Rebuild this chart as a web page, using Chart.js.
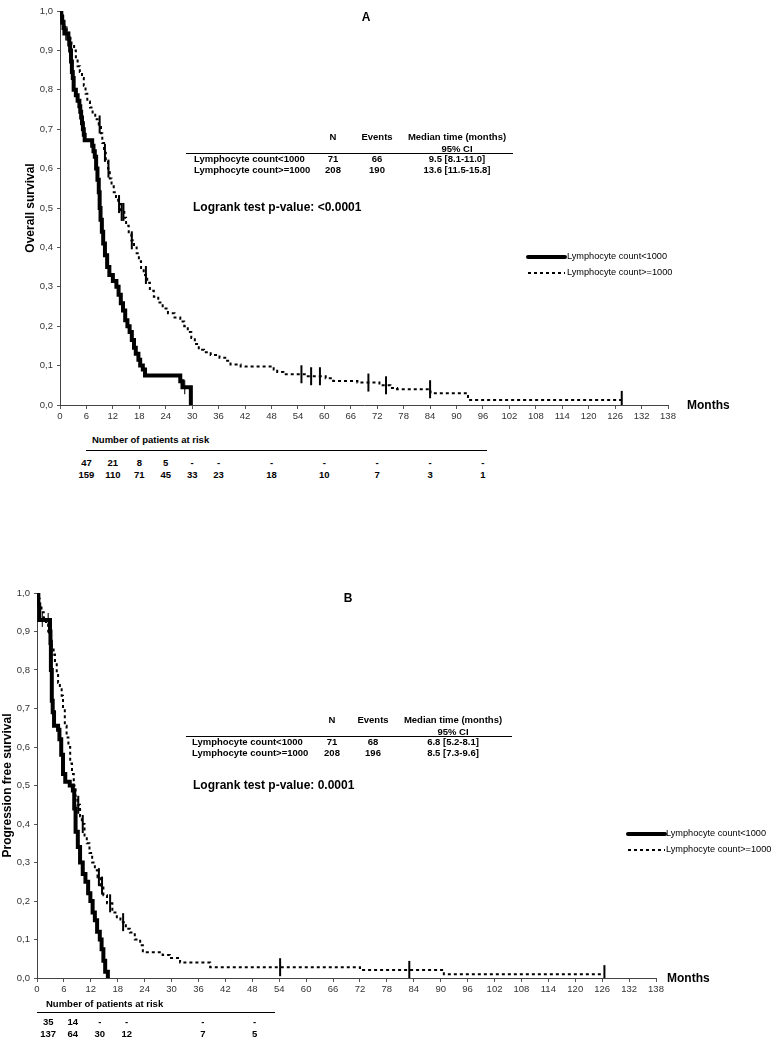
<!DOCTYPE html>
<html>
<head>
<meta charset="utf-8">
<script src="https://cdn.jsdelivr.net/npm/chart.js@4.4.1/dist/chart.umd.min.js"></script>
<style>
body { margin:0; background:#fff; }
#wrap { position:relative; width:772px; height:1050px; color:#000; overflow:hidden; }
canvas { position:absolute; left:0; }
.t { position:absolute; white-space:nowrap; }
.hl { position:absolute; height:0; border-top:1px solid #000; }
</style>
</head>
<body>
<div id="wrap">
<canvas id="chartA" width="772" height="430" style="top:0px"></canvas>
<canvas id="chartB" width="772" height="421" style="top:582px"></canvas>
</div>
<script>
// --- data ---
var groupNames = ['Lymphocyte count<1000', 'Lymphocyte count>=1000'];

// A: overall survival
var osLowTime = [0,0.3,0.5,0.8,1.0, 1.9,2.1,2.3,2.5,2.7, 2.9,3.1,3.6,4.0,4.4, 4.6,4.8,5.0,5.2,5.4, 5.6,7.3,7.6,7.9,8.2, 8.5,8.8,9.0,9.2,9.5, 9.8,10.2,10.7,11.2, 12.0,12.8,13.3,13.8,14.3, 14.8,15.3,15.8,16.3,16.8, 17.2,17.8,18.2,18.8,19.3, 27.3,27.8,29.7];
var osLowSurv = [1,0.985,0.97,0.957,0.943, 0.93,0.915,0.9,0.872,0.845, 0.83,0.8,0.786,0.772,0.758, 0.744,0.73,0.715,0.7,0.686, 0.672,0.658,0.644,0.63,0.6, 0.572,0.54,0.5,0.47,0.44, 0.41,0.38,0.35,0.33, 0.315,0.3,0.28,0.258,0.24, 0.215,0.2,0.185,0.165,0.145, 0.13,0.115,0.1,0.09,0.075, 0.06,0.045,0];
var osLowCensTime = [1.3, 1.6, 28.3];
var osLowCensSurv = [0.943, 0.943, 0.045];

var osHighTime = [0,0.3,0.6,1.0,1.5, 2.0,2.6,3.2,3.6,4.0, 4.5,5.0,5.4,5.8,6.2, 6.8,7.4,8.0,8.8,9.3, 9.6,10.0,10.4,10.9,11.3, 11.7,12.2,12.7,13.2,13.8, 14.6,15.0,15.6,16.2,16.8, 17.4,17.9,18.4,19.0,19.8, 20.4,21.3,22.3,23.3,24.5, 26.0,27.3,28.2,29.0,29.8, 30.6,31.5,32.7,34.2,36.2, 37.5,38.7,41.0,48.5,49.3, 50.7,56.0,60.3,62.0,67.5, 72.5,75.0,76.5,84.1,92.6, 127.5];
var osHighSurv = [1,0.99,0.975,0.96,0.945, 0.93,0.915,0.9,0.88,0.86, 0.845,0.83,0.81,0.79,0.77, 0.755,0.74,0.725,0.712,0.69, 0.665,0.64,0.62,0.6,0.575, 0.555,0.54,0.525,0.51,0.49, 0.475,0.455,0.435,0.418,0.4, 0.385,0.365,0.345,0.33,0.31, 0.29,0.275,0.26,0.245,0.233, 0.222,0.212,0.2,0.185,0.17, 0.155,0.14,0.134,0.127,0.12, 0.112,0.103,0.098,0.09,0.084, 0.078,0.073,0.068,0.061,0.057, 0.05,0.043,0.04,0.03,0.013, 0.013];
var osHighCensTime = [9.0,10.2,11.0,13.4,14.0,14.4,16.3,19.5,54.8,57.0,59.0,70.0,74.0,84.0,127.5];
var osHighCensSurv = [0.712,0.64,0.6,0.51,0.49,0.49,0.418,0.33,0.078,0.073,0.073,0.057,0.05,0.04,0.013];

// B: progression free survival
var pfsLowTime = [0,0.3,0.5,2.9,3.0, 3.1,3.3,3.5,3.8,4.7, 5.0,5.4,5.8,6.3,7.3, 8.0,8.3,8.6,9.1,9.6, 10.2,10.8,11.4,11.9,12.4, 12.9,13.4,14.0,14.4,14.8, 15.2,15.8];
var pfsLowSurv = [1,0.97,0.93,0.9,0.87, 0.8,0.72,0.69,0.655,0.645, 0.62,0.58,0.53,0.51,0.5, 0.487,0.44,0.38,0.34,0.3, 0.27,0.25,0.22,0.2,0.17, 0.15,0.12,0.1,0.075,0.045, 0.016,0];
var pfsLowCensTime = [1.2, 2.5];
var pfsLowCensSurv = [0.93, 0.93];

var pfsHighTime = [0,0.3,0.6,1.0,1.5, 2.0,2.5,2.9,3.3,3.7, 4.0,4.4,4.7,5.1,5.5, 5.8,6.2,6.6,7.0,7.4, 7.8,8.2,8.6,9.0,9.6, 10.0,10.6,11.1,11.7,12.3, 12.9,13.5,14.2,14.8,15.6, 16.8,17.8,18.6,19.8,20.7, 21.8,23.0,23.6,28.0,29.6, 31.9,38.6,72.0,90.7,126.5];
var pfsHighSurv = [1,0.985,0.97,0.95,0.935, 0.92,0.9,0.876,0.86,0.84, 0.82,0.79,0.767,0.75,0.733, 0.7,0.655,0.625,0.6,0.557, 0.53,0.5,0.47,0.45,0.42, 0.4,0.37,0.35,0.325,0.3, 0.28,0.262,0.24,0.215,0.194, 0.17,0.158,0.145,0.128,0.118, 0.1,0.085,0.067,0.06,0.052, 0.04,0.028,0.021,0.01,0.01];
var pfsHighCensTime = [9.2,10.2,13.8,14.5,16.3,19.2,54.2,83.0,126.5];
var pfsHighCensSurv = [0.45,0.4,0.262,0.24,0.194,0.145,0.028,0.021,0.01];

// summary tables
var nA = ['71', '208'];
var eventsA = ['66', '190'];
var medianA = ['9.5 [8.1-11.0]', '13.6 [11.5-15.8]'];
var pvalA = '<0.0001';
var nB = ['71', '208'];
var eventsB = ['68', '196'];
var medianB = ['6.8 [5.2-8.1]', '8.5 [7.3-9.6]'];
var pvalB = '0.0001';

// number at risk
var riskMonthsA = [6,12,18,24,30,36,48,60,72,84,96];
var riskLowA = ['47','21','8','5','-','-','-','-','-','-','-'];
var riskHighA = ['159','110','71','45','33','23','18','10','7','3','1'];
var riskMonthsB = [2.5,8,14,20,37,48.5];
var riskLowB = ['35','14','-','-','-','-'];
var riskHighB = ['137','64','30','12','7','5'];

var fam = '"Liberation Sans", Arial, sans-serif';
var wrap = document.getElementById('wrap');

function pts(t, s) {
	var out = [];
	for (var i = 0; i < t.length; i++) out.push({x: t[i], y: s[i]});
	return out;
}

function put(text, x, y, font, align) {
	var el = document.createElement('div');
	el.className = 't';
	el.textContent = text;
	el.style.font = font;
	el.style.lineHeight = '1';
	el.style.left = x + 'px';
	el.style.top = y + 'px';
	if (align == 'c') el.style.transform = 'translate(-50%,-50%)';
	else el.style.transform = 'translate(0,-50%)';
	wrap.appendChild(el);
}

function hline(x1, x2, y) {
	var el = document.createElement('div');
	el.className = 'hl';
	el.style.left = x1 + 'px';
	el.style.top = y + 'px';
	el.style.width = (x2 - x1) + 'px';
	wrap.appendChild(el);
}

// legend samples drawn from the dataset styles
var kmLegend = {
	id: 'kmLegend',
	afterDraw: function(chart) {
		var o = chart.options.plugins.kmLegend;
		var ctx = chart.ctx;
		for (var i = 0; i < 2; i++) {
			var ds = chart.data.datasets[i];
			ctx.save();
			ctx.strokeStyle = ds.borderColor;
			ctx.lineWidth = ds.borderWidth;
			ctx.lineCap = i == 0 ? 'round' : 'butt';
			ctx.setLineDash(ds.borderDash || []);
			ctx.beginPath();
			ctx.moveTo(o.x1, o.y[i]);
			ctx.lineTo(o.x2, o.y[i]);
			ctx.stroke();
			ctx.restore();
		}
	}
};

function buildChart(id, d) {
	var ctx = document.getElementById(id).getContext('2d');
	return new Chart(ctx, {
		type: 'line',
		data: {
			datasets: [
				{ label: groupNames[0], data: pts(d.lowT, d.lowS), stepped: true, borderColor: '#000', borderWidth: 4, pointRadius: 0, fill: false },
				{ label: groupNames[1], data: pts(d.highT, d.highS), stepped: true, borderColor: '#000', borderWidth: 2, borderDash: [3, 3], pointRadius: 0, fill: false },
				{ label: 'censored <1000', data: pts(d.lowCT, d.lowCS), showLine: false, pointStyle: 'line', pointRotation: 90, pointRadius: 7, pointBorderColor: '#333', pointBorderWidth: 1.3 },
				{ label: 'censored >=1000', data: pts(d.highCT, d.highCS), showLine: false, pointStyle: 'line', pointRotation: 90, pointRadius: 9, pointBorderColor: '#000', pointBorderWidth: 2 }
			]
		},
		options: {
			responsive: false,
			animation: false,
			devicePixelRatio: 1,
			layout: { padding: { left: 0, top: 10, right: d.padRight, bottom: 0 } },
			plugins: {
				legend: { display: false },
				tooltip: { enabled: false },
				kmLegend: d.legend
			},
			scales: {
				x: {
					type: 'linear', min: 0, max: 138,
					afterFit: function(s) { s.height = 25; },
					ticks: { stepSize: 6, autoSkip: false, maxRotation: 0, color: '#333', padding: 2, font: { family: fam, size: 9.5 } },
					grid: { drawOnChartArea: false, drawTicks: true, tickLength: 4, color: '#555' },
					border: { color: '#444', width: 1 }
				},
				y: {
					min: 0, max: 1,
					afterFit: function(s) { s.width = d.yWidth; },
					ticks: { stepSize: 0.1, color: '#333', padding: 4, font: { family: fam, size: 9.5 },
						callback: function(v) { return v.toFixed(1).replace('.', ','); } },
					grid: { drawOnChartArea: false, drawTicks: true, tickLength: 3, color: '#555' },
					border: { color: '#444', width: 1 },
					title: { display: true, text: d.yTitle, color: '#000', padding: { top: d.titlePad, bottom: 0 }, font: { family: fam, size: 12, weight: 'bold' } }
				}
			}
		},
		plugins: [kmLegend]
	});
}

var chartA = buildChart('chartA', {
	lowT: osLowTime, lowS: osLowSurv, lowCT: osLowCensTime, lowCS: osLowCensSurv,
	highT: osHighTime, highS: osHighSurv, highCT: osHighCensTime, highCS: osHighCensSurv,
	padRight: 104, yWidth: 60, titlePad: 23, yTitle: 'Overall survival',
	legend: { x1: 528, x2: 565, y: [257, 273] }
});
var chartB = buildChart('chartB', {
	lowT: pfsLowTime, lowS: pfsLowSurv, lowCT: pfsLowCensTime, lowCS: pfsLowCensSurv,
	highT: pfsHighTime, highS: pfsHighSurv, highCT: pfsHighCensTime, highCS: pfsHighCensSurv,
	padRight: 116, yWidth: 37, titlePad: 0, yTitle: 'Progression free survival',
	legend: { x1: 628, x2: 665, y: [834 - 582, 850 - 582] }
});

var fTab = 'bold 9.5px ' + fam;
var fBig = 'bold 12px ' + fam;
var fLeg = '9.2px ' + fam;

function panelText(p) {
	put(p.letter, p.letterX, p.letterY, fBig, 'c');
	put('N', p.colN, p.headY, fTab, 'c');
	put('Events', p.colE, p.headY, fTab, 'c');
	put('Median time (months)', p.colM, p.headY, fTab, 'c');
	put('95% CI', p.colM, p.headY + 11.5, fTab, 'c');
	hline(p.lineX1, p.lineX2, p.lineY);
	for (var i = 0; i < 2; i++) {
		var y = p.rowY[i];
		put(groupNames[i], p.nameX, y, fTab, 'l');
		put(p.n[i], p.colN, y, fTab, 'c');
		put(p.ev[i], p.colE, y, fTab, 'c');
		put(p.med[i], p.colM, y, fTab, 'c');
		put(groupNames[i], p.legX, p.legY[i], fLeg, 'l');
	}
	put('Logrank test p-value: ' + p.pval, p.pX, p.pY, fBig, 'l');
	put('Months', p.monthsX, p.monthsY, fBig, 'l');
	// number at risk, columns placed on the chart's month axis
	put('Number of patients at risk', p.riskTitleX, p.riskTitleY, fTab, 'l');
	hline(p.riskLineX1, p.riskLineX2, p.riskLineY);
	for (var j = 0; j < p.riskMonths.length; j++) {
		var x = p.chart.scales.x.getPixelForValue(p.riskMonths[j]);
		put(p.riskLow[j], x, p.riskRowY[0], fTab, 'c');
		put(p.riskHigh[j], x, p.riskRowY[1], fTab, 'c');
	}
}

panelText({
	chart: chartA, letter: 'A', letterX: 366, letterY: 17,
	headY: 137, colN: 333, colE: 377, colM: 457, lineX1: 186, lineX2: 513, lineY: 153,
	rowY: [158.5, 169.5], nameX: 194, n: nA, ev: eventsA, med: medianA,
	pval: pvalA, pX: 193, pY: 207, monthsX: 687, monthsY: 405,
	legX: 567, legY: [257, 273],
	riskTitleX: 92, riskTitleY: 440, riskLineX1: 86, riskLineX2: 487, riskLineY: 450,
	riskMonths: riskMonthsA, riskLow: riskLowA, riskHigh: riskHighA, riskRowY: [463, 475]
});
panelText({
	chart: chartB, letter: 'B', letterX: 348, letterY: 598,
	headY: 720, colN: 332, colE: 373, colM: 453, lineX1: 186, lineX2: 512, lineY: 736,
	rowY: [742, 753], nameX: 192, n: nB, ev: eventsB, med: medianB,
	pval: pvalB, pX: 193, pY: 785, monthsX: 667, monthsY: 978,
	legX: 666, legY: [834, 850],
	riskTitleX: 46, riskTitleY: 1004, riskLineX1: 37, riskLineX2: 275, riskLineY: 1012,
	riskMonths: riskMonthsB, riskLow: riskLowB, riskHigh: riskHighB, riskRowY: [1022, 1034]
});
</script>
</body>
</html>
